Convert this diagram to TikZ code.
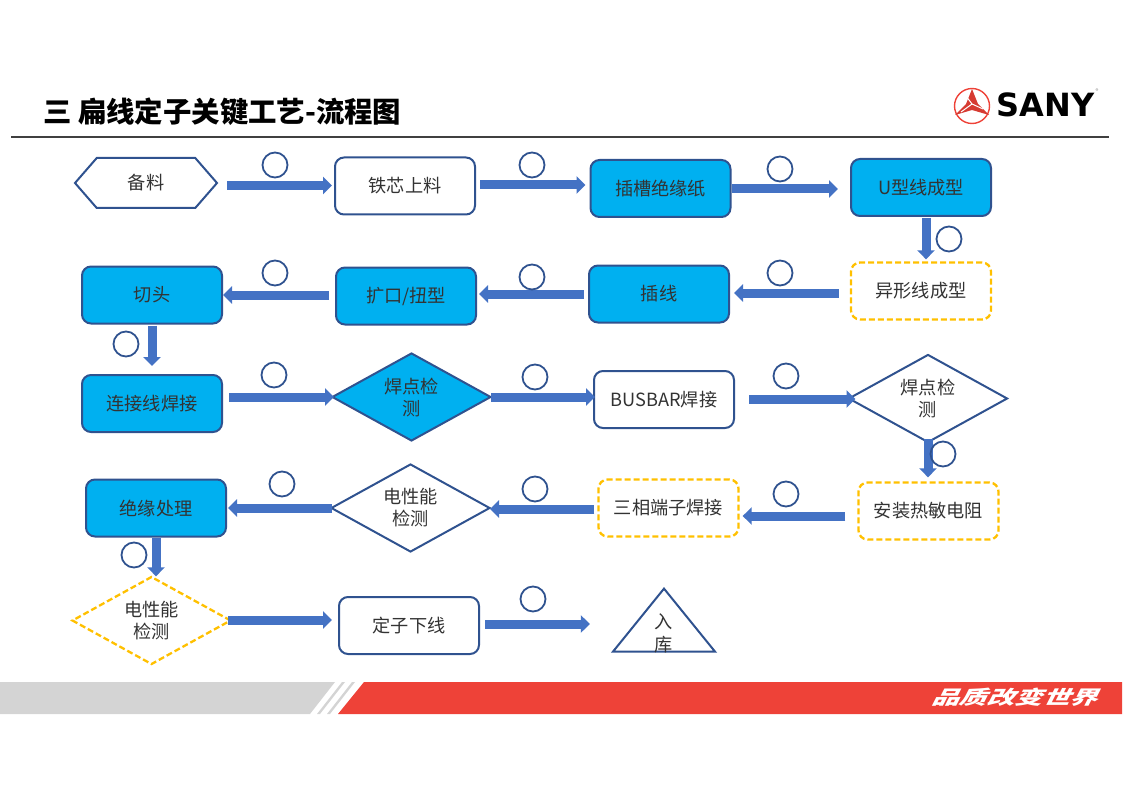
\documentclass[tikz,border=0pt]{standalone}
\usepackage{fontspec}
\setmainfont{Noto Sans CJK SC}
\newfontfamily\logofont{DejaVu Sans}
\usetikzlibrary{arrows.meta,shapes}
\definecolor{nodeline}{HTML}{2F528F}
\definecolor{arrowblue}{HTML}{4472C4}
\definecolor{stepblue}{HTML}{00B0F0}
\definecolor{dashyellow}{HTML}{FFC000}
\definecolor{sanyred}{HTML}{EE4238}
\definecolor{bandgrey}{HTML}{D4D4D4}
\tikzstyle{boxnode}=[rectangle,rounded corners=9pt,draw=nodeline,line width=2pt,minimum width=140pt,minimum height=57pt,inner sep=0pt,text=black!80,font=\fontsize{18.2}{22}\selectfont,align=center]
\tikzstyle{bluebox}=[boxnode,fill=stepblue]
\tikzstyle{dashbox}=[boxnode,draw=dashyellow,line width=2.3pt,dash pattern=on 6pt off 3pt]
\tikzstyle{checknode}=[diamond,aspect=1.8,draw=nodeline,line width=2pt,minimum width=159pt,minimum height=88pt,inner sep=0pt,text=black!80,font=\fontsize{18.2}{22}\selectfont,align=center]
\tikzstyle{stationring}=[circle,draw=nodeline,line width=1.8pt,minimum size=25pt,inner sep=0pt]
\tikzstyle{edge}=[draw=arrowblue,line width=9pt,-{Triangle[length=9pt,width=17pt,fill=arrowblue]}]

\begin{document}
\begin{tikzpicture}[x=1pt,y=-1pt]

    \useasboundingbox (0,0) rectangle (1123,794);

    % heading
    \node[anchor=west,inner sep=0pt,font=\fontsize{28.4}{32}\selectfont\bfseries] (title) at (43,112) {三 扁线定子关键工艺-流程图};
    \coordinate (ruleleft) at (11,137);
    \coordinate (ruleright) at (1109,137);
    \draw[black!75,line width=1.5pt] (ruleleft) -- (ruleright);

    % logo
    \node[circle,draw=sanyred,line width=1.4pt,minimum size=35pt,inner sep=0pt] (logoring) at (972,106) {};
    \fill[sanyred!90!black] (972,89) -- (978,104) -- (989,115) -- (972,110) -- (955,115) -- (966,104) -- cycle;
    \draw[white,line width=1pt] (972,104) -- (966,96) (972,104) -- (983,109) (972,104) -- (961,112);
    \node[inner sep=0pt,font=\fontsize{32}{32}\logofont\bfseries] (logotext) at (1045.5,104.5) {SANY};
    \node[inner sep=0pt,text=black!45,font=\fontsize{6}{6}\selectfont] (logoreg) at (1097,91) {®};

    % footer
    \fill[bandgrey] (0,682) -- (335,682) -- (310,714) -- (0,714) -- cycle;
    \fill[bandgrey] (342,682) -- (345,682) -- (320,714) -- (317,714) -- cycle;
    \fill[bandgrey] (352,682) -- (355,682) -- (330,714) -- (327,714) -- cycle;
    \fill[sanyred] (364,682) -- (1122,682) -- (1122,714) -- (338,714) -- cycle;
    \node[inner sep=0pt,text=white,font=\fontsize{19}{19}\selectfont\bfseries,xscale=1.46,xslant=.35] (slogan) at (1018,697) {品质改变世界};

    % white process steps
    \foreach \x/\y/\name/\txt in {405/186/tie/铁芯上料, 664/399.5/busbar/BUSBAR焊接, 409/625.5/dingzi/定子下线}
        \node[boxnode] (\name) at (\x,\y) {\txt};

    % blue process steps
    \foreach \x/\y/\name/\txt in {660.5/188.5/cao/插槽绝缘纸, 921/187.5/uxing/U型线成型, 659/294/charu/插线, 406/296/kuo/{扩口/扭型}, 152/295/qie/切头, 152/403.5/lian/连接线焊接, 156/508/jue/绝缘处理}
        \node[bluebox] (\name) at (\x,\y) {\txt};

    % dashed steps
    \foreach \x/\y/\name/\txt in {921/291/yixing/异形线成型, 928.5/511/anzhuang/安装热敏电阻, 668.5/508/sanxiang/三相端子焊接}
        \node[dashbox] (\name) at (\x,\y) {\txt};

    % decisions
    \node[checknode,fill=stepblue] (hana) at (411.5,397) {焊点检\\测};
    \node[checknode] (hanb) at (928,398.5) {焊点检\\测};
    \node[checknode] (diana) at (410.5,508) {电性能\\检测};
    \node[checknode,draw=dashyellow,line width=2.3pt,dash pattern=on 6pt off 3pt] (dianb) at (151.5,620.5) {电性能\\检测};

    % start and end
    \node[signal,signal to=west and east,signal pointer angle=98,draw=nodeline,line width=2pt,minimum width=142pt,minimum height=50pt,inner sep=0pt,text=black!80,font=\fontsize{18.2}{22}\selectfont] (bei) at (146,183) {备料};
    \node[isosceles triangle,isosceles triangle stretches,shape border rotate=90,draw=nodeline,line width=2pt,minimum width=102pt,minimum height=63pt,inner sep=0pt,anchor=apex] (ruku) at (664,586) {};
    \node[inner sep=0pt,text=black!80,font=\fontsize{18.2}{23}\selectfont,align=center] (rukutext) at (664,633) {入\\库};

    % left to right and back
    \foreach \source/\sa/\dest/\da/\level/\sgap/\dgap in {
        bei/east/tie/west/185.5/9/2,
        tie/east/cao/west/185/4/4,
        cao/east/uxing/west/189/0/12,
        yixing/west/charu/east/293/11/4,
        charu/west/kuo/east/294/4/2,
        kuo/west/qie/east/295/6/0,
        lian/east/hana/west/397/6/-3,
        hana/east/busbar/west/397/-1/-2,
        busbar/east/hanb/west/399/14/-8,
        anzhuang/west/sanxiang/east/516/12/3,
        sanxiang/west/diana/east/509/3/-1,
        diana/west/jue/east/508/-2/1,
        dianb/east/dingzi/west/620/-4/6,
        dingzi/east/ruku/left corner/624/5/21}
        \path[edge,shorten <=\sgap pt,shorten >=\dgap pt] (\source.\sa |- 0,\level) -- (\dest.\da |- 0,\level);

    % downwards
    \foreach \source/\dest/\level/\sgap/\dgap in {
        uxing/yixing/926/1/2,
        qie/lian/152/1/8,
        hanb/anzhuang/928/-5/4,
        jue/dianb/156/0/-1}
        \path[edge,shorten <=\sgap pt,shorten >=\dgap pt] (\level,0 |- \source.south) -- (\level,0 |- \dest.north);

    % rings
    \foreach \x/\y [count=\i] in {275/165, 532/165, 780/169, 949/239, 275/273, 532/277, 780/273, 126/344, 274/375, 535/377, 786/376, 943/454, 786/494, 535/489, 282/484, 134/555, 533/599}
        \node[stationring] (ring\i) at (\x,\y) {};

\end{tikzpicture}
\end{document}
